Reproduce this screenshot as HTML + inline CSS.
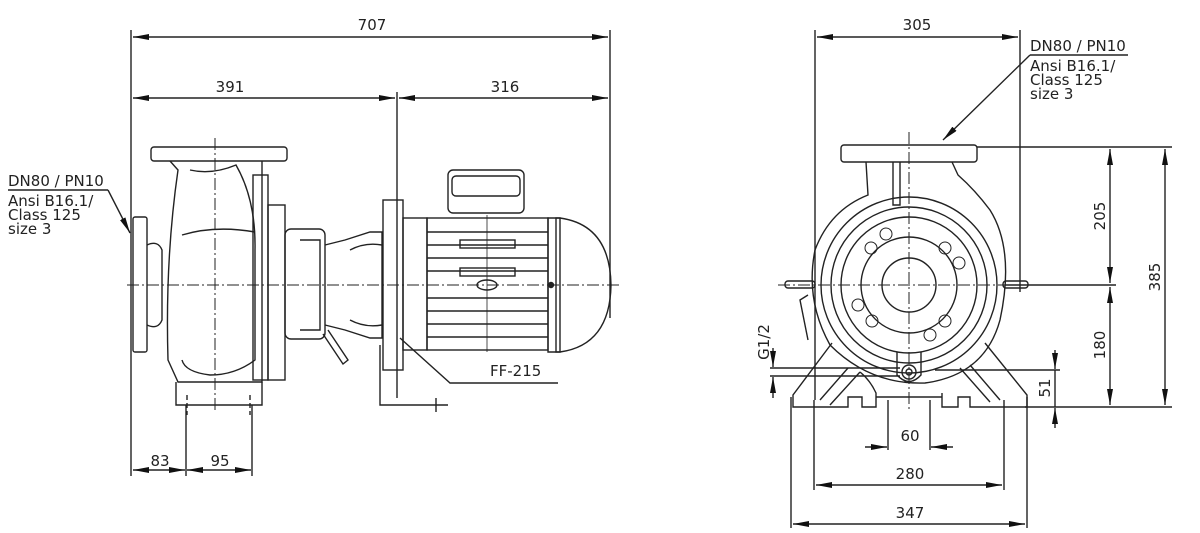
<!DOCTYPE html>
<html><head><meta charset="utf-8"><style>
html,body{margin:0;padding:0;background:#fff}
svg{display:block}
text{font-family:"DejaVu Sans","Liberation Sans",sans-serif;font-size:15px;fill:#222}
</style></head><body>
<svg width="1200" height="533" viewBox="0 0 1200 533" xmlns="http://www.w3.org/2000/svg">
<defs>
<marker id="a" viewBox="0 0 16 6" refX="16" refY="3" markerWidth="16" markerHeight="6" markerUnits="userSpaceOnUse" orient="auto-start-reverse"><path d="M0,0L16,3L0,6z" fill="#111"/></marker>
</defs>
<g stroke="#222" stroke-width="1.4" fill="none">
<line x1="131" y1="30" x2="131" y2="476"/>
<line x1="610" y1="30" x2="610" y2="318"/>
<line x1="397" y1="92" x2="397" y2="398"/>
<line x1="133" y1="37" x2="608" y2="37" marker-start="url(#a)" marker-end="url(#a)"/>
<line x1="133" y1="98" x2="395" y2="98" marker-start="url(#a)" marker-end="url(#a)"/>
<line x1="399" y1="98" x2="608" y2="98" marker-start="url(#a)" marker-end="url(#a)"/>
<line x1="186" y1="405" x2="186" y2="476"/>
<line x1="252" y1="405" x2="252" y2="476"/>
<line x1="133" y1="470" x2="185" y2="470" marker-start="url(#a)" marker-end="url(#a)"/>
<line x1="187" y1="470" x2="251" y2="470" marker-start="url(#a)" marker-end="url(#a)"/>
<line x1="127" y1="285" x2="622" y2="285" stroke-dasharray="12,3,2,3" stroke-width="1"/>
<line x1="215" y1="138" x2="215" y2="412" stroke-dasharray="12,3,2,3" stroke-width="1"/>
<line x1="8" y1="190" x2="108" y2="190"/>
<line x1="108" y1="190" x2="130" y2="233" marker-end="url(#a)"/>
<rect x="133" y="217" width="14" height="135" rx="2"/>
<path d="M147,245 Q158,240 162,250 L162,320 Q158,330 147,325"/>
<rect x="151" y="147" width="136" height="14" rx="3"/>
<path d="M170,161 L178,170 Q165,260 168,360 L178,382 L262,382 L262,161"/>
<path d="M190,170 Q212,175 236,165 Q256,200 255,250 L255,360 Q235,375 210,375 Q185,372 182,360"/>
<path d="M182,235 Q215,225 255,232"/>
<path d="M176,382 L176,405 L262,405 L262,382"/>
<line x1="187" y1="395" x2="187" y2="415" stroke-dasharray="5,3"/>
<line x1="250" y1="395" x2="250" y2="415" stroke-dasharray="5,3"/>
<rect x="253" y="175" width="15" height="205"/>
<rect x="268" y="205" width="17" height="175"/>
<rect x="285" y="229" width="40" height="110" rx="6"/>
<path d="M300,240 L320,240 L320,330 L300,330"/>
<path d="M325,245 L345,240 L370,232 L382,232 L382,338 L370,338 L345,330 L325,325"/>
<path d="M350,250 Q365,242 382,245 M350,320 Q365,328 382,325"/>
<path d="M328,330 L348,360 L343,364 L323,334"/>
<rect x="383" y="200" width="20" height="170"/>
<rect x="403" y="218" width="24" height="132"/>
<path d="M380,345 L380,405 L448,405"/>
<line x1="436" y1="398" x2="436" y2="412"/>
<rect x="427" y="218" width="121" height="132"/>
<line x1="427" y1="232" x2="548" y2="232"/><line x1="427" y1="245" x2="548" y2="245"/>
<line x1="427" y1="258" x2="548" y2="258"/><line x1="427" y1="271" x2="548" y2="271"/>
<line x1="427" y1="298" x2="548" y2="298"/><line x1="427" y1="311" x2="548" y2="311"/>
<line x1="427" y1="324" x2="548" y2="324"/><line x1="427" y1="337" x2="548" y2="337"/>
<rect x="460" y="240" width="55" height="8"/><rect x="460" y="268" width="55" height="8"/>
<line x1="487" y1="215" x2="487" y2="352" stroke-width="0.8"/>
<ellipse cx="487" cy="285" rx="10" ry="5"/>
<rect x="448" y="170" width="76" height="43" rx="5"/>
<rect x="452" y="176" width="68" height="20" rx="4"/>
<path d="M548,218 L560,218 Q610,225 611,285 Q610,345 560,352 L548,352 Z"/>
<circle cx="551" cy="285" r="2.5" fill="#222"/>
<rect x="556" y="218" width="4" height="134"/>
<polyline points="400,338 450,383 558,383"/>
<line x1="815" y1="30" x2="815" y2="400"/>
<line x1="1020" y1="30" x2="1020" y2="292"/>
<line x1="817" y1="37" x2="1018" y2="37" marker-start="url(#a)" marker-end="url(#a)"/>
<line x1="1030" y1="55" x2="1128" y2="55"/>
<line x1="1030" y1="55" x2="943" y2="140" marker-end="url(#a)"/>
<line x1="977" y1="147" x2="1172" y2="147"/>
<line x1="1005" y1="285" x2="1116" y2="285"/>
<line x1="1025" y1="407" x2="1172" y2="407"/>
<line x1="1110" y1="149" x2="1110" y2="283" marker-start="url(#a)" marker-end="url(#a)"/>
<line x1="1110" y1="287" x2="1110" y2="405" marker-start="url(#a)" marker-end="url(#a)"/>
<line x1="1165" y1="149" x2="1165" y2="405" marker-start="url(#a)" marker-end="url(#a)"/>
<line x1="935" y1="370" x2="1060" y2="370"/>
<line x1="1055" y1="350" x2="1055" y2="369" marker-end="url(#a)"/>
<line x1="1055" y1="428" x2="1055" y2="408" marker-end="url(#a)"/>
<line x1="1055" y1="370" x2="1055" y2="407"/>
<line x1="770" y1="368" x2="900" y2="368"/>
<line x1="770" y1="376" x2="900" y2="376"/>
<line x1="773" y1="348" x2="773" y2="367" marker-end="url(#a)"/>
<line x1="773" y1="398" x2="773" y2="377" marker-end="url(#a)"/>
<line x1="888" y1="400" x2="888" y2="450"/>
<line x1="930" y1="400" x2="930" y2="450"/>
<line x1="865" y1="447" x2="887" y2="447" marker-end="url(#a)"/>
<line x1="953" y1="447" x2="931" y2="447" marker-end="url(#a)"/>
<line x1="814" y1="400" x2="814" y2="490"/>
<line x1="1004" y1="400" x2="1004" y2="490"/>
<line x1="816" y1="485" x2="1002" y2="485" marker-start="url(#a)" marker-end="url(#a)"/>
<line x1="791" y1="397" x2="791" y2="528"/>
<line x1="1027" y1="397" x2="1027" y2="528"/>
<line x1="793" y1="524" x2="1025" y2="524" marker-start="url(#a)" marker-end="url(#a)"/>
<line x1="778" y1="285" x2="1040" y2="285" stroke-dasharray="12,3,2,3" stroke-width="1"/>
<line x1="909" y1="132" x2="909" y2="412" stroke-dasharray="12,3,2,3" stroke-width="1"/>
<rect x="841" y="145" width="136" height="17" rx="3"/>
<path d="M866,162 L868,195 Q830,210 815,250 Q805,300 830,345 Q870,385 925,383 Q985,375 1000,320 Q1015,250 990,210 Q975,190 958,175 L952,162"/>
<circle cx="909" cy="285" r="88"/>
<circle cx="909" cy="285" r="78"/>
<circle cx="909" cy="285" r="68"/>
<circle cx="909" cy="285" r="48"/>
<circle cx="909" cy="285" r="27"/>
<path d="M893,162 L893,205 L900,205 L900,162"/>
<g stroke-width="1">
<circle cx="886" cy="234" r="6"/><circle cx="871" cy="248" r="6"/><circle cx="945" cy="248" r="6"/><circle cx="959" cy="263" r="6"/>
<circle cx="858" cy="305" r="6"/><circle cx="872" cy="321" r="6"/><circle cx="945" cy="321" r="6"/><circle cx="930" cy="335" r="6"/>
</g>
<rect x="785" y="281" width="30" height="7" rx="3"/>
<rect x="1003" y="281" width="25" height="7" rx="3"/>
<path d="M808,295 L800,300 L808,340"/>
<path d="M897,352 L897,375 Q909,388 921,375 L921,352"/>
<circle cx="909" cy="372" r="7"/><circle cx="909" cy="372" r="3"/>
<path d="M832,343 L793,395 L793,407 L848,407 L848,397 L862,397 L862,407 L876,407 L876,393 Q870,380 860,372"/>
<path d="M985,343 L1027,395 L1027,407 L970,407 L970,397 L958,397 L958,407 L942,407 L942,393"/>
<path d="M876,397 L942,397" />
<path d="M848,368 L820,400 M860,372 L830,405"/>
<path d="M960,368 L990,402 M970,365 L1000,400"/>
</g>
<text x="372" y="30" text-anchor="middle">707</text>
<text x="230" y="92" text-anchor="middle">391</text>
<text x="505" y="92" text-anchor="middle">316</text>
<text x="160" y="466" text-anchor="middle">83</text>
<text x="220" y="466" text-anchor="middle">95</text>
<text x="8" y="186">DN80 / PN10</text>
<text x="8" y="206">Ansi B16.1/</text>
<text x="8" y="220">Class 125</text>
<text x="8" y="234">size 3</text>
<text x="490" y="376">FF-215</text>
<text x="917" y="30" text-anchor="middle">305</text>
<text x="1030" y="51">DN80 / PN10</text>
<text x="1030" y="71">Ansi B16.1/</text>
<text x="1030" y="85">Class 125</text>
<text x="1030" y="99">size 3</text>
<text x="910" y="441" text-anchor="middle">60</text>
<text x="910" y="479" text-anchor="middle">280</text>
<text x="910" y="518" text-anchor="middle">347</text>
<text transform="translate(1105,216) rotate(-90)" text-anchor="middle">205</text>
<text transform="translate(1105,345) rotate(-90)" text-anchor="middle">180</text>
<text transform="translate(1160,277) rotate(-90)" text-anchor="middle">385</text>
<text transform="translate(1050,388) rotate(-90)" text-anchor="middle">51</text>
<text transform="translate(769,342) rotate(-90)" text-anchor="middle">G1/2</text>
</svg>
</body></html>
